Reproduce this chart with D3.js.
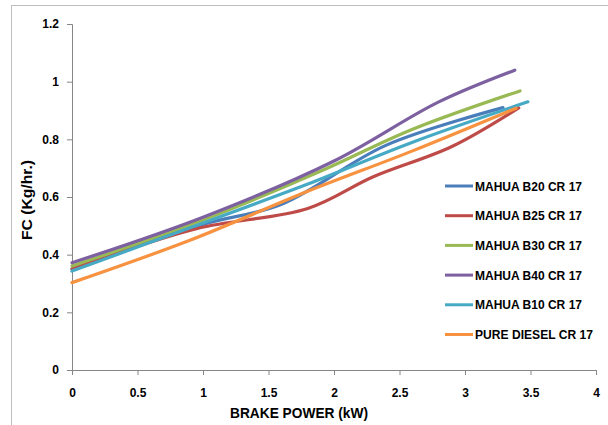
<!DOCTYPE html>
<html><head><meta charset="utf-8">
<script src="https://cdn.jsdelivr.net/npm/d3@7/dist/d3.min.js"></script>
<style>body{margin:0;background:#fff}svg{display:block}</style>
</head><body>
<svg id="c" width="608" height="425"></svg>
<script>
const seriesNames = ["MAHUA B20 CR 17","MAHUA B25 CR 17","MAHUA B30 CR 17","MAHUA B40 CR 17","MAHUA B10 CR 17","PURE DIESEL CR 17"];
const seriesColors = ["#4A7EBB","#BE4B48","#98B954","#7D60A0","#46AAC5","#F69240"];
const b20 = [[0,0.35],[1.0,0.505],[1.6,0.575],[2.4,0.78],[3.29,0.91]];
const b25 = [[0,0.35],[0.95,0.49],[1.8,0.56],[2.3,0.67],[2.9,0.775],[3.41,0.909]];
const b30 = [[0,0.361],[1.0,0.52],[1.9,0.69],[2.6,0.835],[3.42,0.968]];
const b40 = [[0,0.372],[1.0,0.53],[2.0,0.725],[2.8,0.93],[3.38,1.04]];
const b10 = [[0,0.343],[1.0,0.51],[1.8,0.645],[2.6,0.79],[3.48,0.93]];
const diesel = [[0,0.303],[0.9,0.45],[1.8,0.62],[2.6,0.76],[3.39,0.908]];
const xTicks = [0,0.5,1,1.5,2,2.5,3,3.5,4];
const yTicks = [0,0.2,0.4,0.6,0.8,1,1.2];
const xTitle = "BRAKE POWER (kW)";
const yTitle = "FC (Kg/hr.)";

const allSeries = [b20,b25,b30,b40,b10,diesel];
const svg = d3.select("#c");
svg.append("rect").attr("x",11.5).attr("y",5.5).attr("width",620).attr("height",440)
  .attr("fill","#fff").attr("stroke","#BFBFBF").attr("stroke-width",1);

const x = d3.scaleLinear().domain([0,4]).range([72,596]);
const y = d3.scaleLinear().domain([0,1.2]).range([370,24]);
const font = "'Liberation Sans', Arial, sans-serif";

const xAxis = svg.append("g").attr("transform","translate(0,370)")
  .call(d3.axisBottom(x).tickValues(xTicks).tickSize(5).tickPadding(13).tickFormat(d3.format("")));
const yAxis = svg.append("g").attr("transform","translate(72,0)")
  .call(d3.axisLeft(y).tickValues(yTicks).tickSize(5).tickPadding(8).tickFormat(d3.format("")));
[xAxis,yAxis].forEach(g=>{
  g.select(".domain").attr("stroke","#868686");
  g.selectAll(".tick line").attr("stroke","#868686");
  g.selectAll(".tick text").attr("fill","#000").style("font-family",font).style("font-weight","bold").style("font-size","12px");
});

const line = d3.line().x(d=>x(d[0])).y(d=>y(d[1])).curve(d3.curveCatmullRom.alpha(0.5));
allSeries.forEach((s,i)=>{
  svg.append("path").attr("d",line(s)).attr("fill","none")
    .attr("stroke",seriesColors[i]).attr("stroke-width",3.2).attr("stroke-linecap","round");
});

// legend
seriesNames.forEach((n,i)=>{
  const yy = 186 + i*29.7;
  svg.append("line").attr("x1",445).attr("x2",473).attr("y1",yy).attr("y2",yy)
    .attr("stroke",seriesColors[i]).attr("stroke-width",3);
  svg.append("text").attr("x",475).attr("y",yy+4.5).text(n)
    .style("font-family",font).style("font-weight","bold").style("font-size","12px")
    .attr("textLength", i===5 ? 118 : 107).attr("lengthAdjust","spacingAndGlyphs");
});

svg.append("text").attr("x",299).attr("y",418).attr("text-anchor","middle").text(xTitle)
  .style("font-family",font).style("font-weight","bold").style("font-size","14px")
  .attr("textLength",138).attr("lengthAdjust","spacingAndGlyphs");
svg.append("text").attr("transform","translate(32,200) rotate(-90)").attr("text-anchor","middle").text(yTitle)
  .style("font-family",font).style("font-weight","bold").style("font-size","14px")
  .attr("textLength",80).attr("lengthAdjust","spacingAndGlyphs");
</script>
</body></html>
